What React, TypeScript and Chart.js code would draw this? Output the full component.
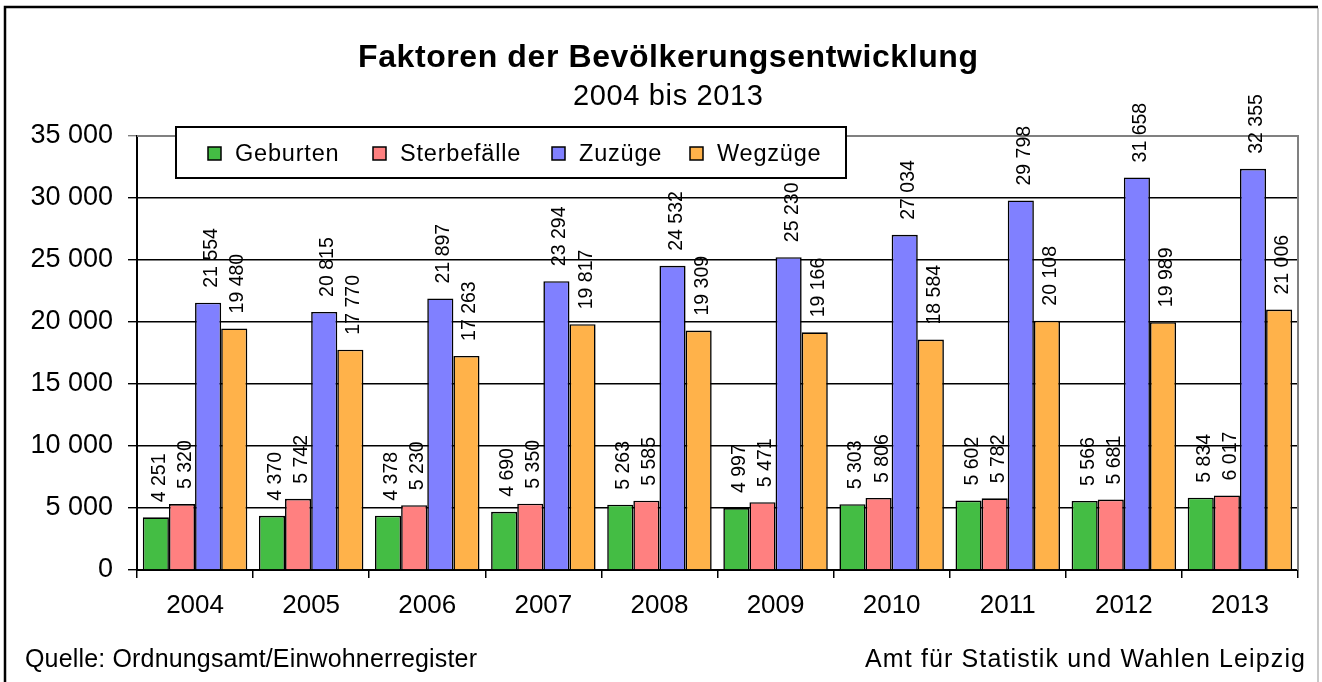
import { useEffect, useRef } from "react";
import { Chart, registerables } from "chart.js";

Chart.register(...registerables);

const years = ["2004", "2005", "2006", "2007", "2008", "2009", "2010", "2011", "2012", "2013"];
const geburten = [4251, 4370, 4378, 4690, 5263, 4997, 5303, 5602, 5566, 5834];
const sterbefaelle = [5320, 5742, 5230, 5350, 5585, 5471, 5806, 5782, 5681, 6017];
const zuzuege = [21554, 20815, 21897, 23294, 24532, 25230, 27034, 29798, 31658, 32355];
const wegzuege = [19480, 17770, 17263, 19817, 19309, 19166, 18584, 20108, 19989, 21006];
const seriesNames = ["Geburten", "Sterbefälle", "Zuzüge", "Wegzüge"];
const seriesColors = ["#44BD44", "#FF8080", "#8080FF", "#FFB24A"];
const yMin = 0;
const yMax = 35000;
const yStep = 5000;
const titleText = "Faktoren der Bevölkerungsentwicklung";
const subtitleText = "2004 bis 2013";
const sourceText = "Quelle: Ordnungsamt/Einwohnerregister";
const authorText = "Amt für Statistik und Wahlen Leipzig";

const FONT = '"Liberation Sans", Arial, sans-serif';

const fmt = (v: number) => String(v).replace(/\B(?=(\d{3})+(?!\d))/g, " ");

function fitText(ctx: any, text: string, x: number, y: number, width: number, align: "left" | "center" | "right") {
  ctx.letterSpacing = "0px";
  const w = ctx.measureText(text).width;
  const sp = text.length > 1 ? (width - w) / (text.length - 1) : 0;
  const start = align === "center" ? x - width / 2 : align === "right" ? x - width : x;
  ctx.letterSpacing = sp + "px";
  ctx.textAlign = "left";
  ctx.fillText(text, start, y);
  ctx.letterSpacing = "0px";
}

const decorPlugin = {
  id: "decor",
  beforeDatasetsDraw(chart: any) {
    const { ctx, chartArea } = chart;
    ctx.save();
    ctx.strokeStyle = "#808080";
    ctx.lineWidth = 2;
    ctx.beginPath();
    ctx.moveTo(chartArea.left, chartArea.top);
    ctx.lineTo(chartArea.right, chartArea.top);
    ctx.lineTo(chartArea.right, chartArea.bottom);
    ctx.stroke();
    ctx.restore();
  },
  afterDatasetsDraw(chart: any) {
    const { ctx } = chart;
    ctx.save();
    ctx.fillStyle = "#000";
    ctx.font = `19.5px ${FONT}`;
    ctx.textBaseline = "alphabetic";
    ctx.textAlign = "left";
    chart.data.datasets.forEach((ds: any, i: number) => {
      const meta = chart.getDatasetMeta(i);
      meta.data.forEach((bar: any, j: number) => {
        const v = ds.data[j];
        ctx.save();
        ctx.translate(bar.x + 9, bar.y - 15);
        ctx.rotate(-Math.PI / 2);
        ctx.fillText(fmt(v), 0, 0);
        ctx.restore();
      });
    });
    ctx.restore();
  },
  afterDraw(chart: any) {
    const { ctx } = chart;
    ctx.save();
    // outer frame
    ctx.strokeStyle = "#C8C8C8";
    ctx.lineWidth = 2;
    ctx.beginPath();
    ctx.moveTo(1318, 8);
    ctx.lineTo(1318, 682);
    ctx.stroke();
    ctx.strokeStyle = "#000";
    ctx.lineWidth = 2.5;
    ctx.beginPath();
    ctx.moveTo(5, 682);
    ctx.lineTo(5, 7);
    ctx.lineTo(1318, 7);
    ctx.stroke();

    // titles
    ctx.fillStyle = "#000";
    ctx.textBaseline = "alphabetic";
    ctx.font = `bold 32px ${FONT}`;
    fitText(ctx, titleText, 668, 67, 620, "center");
    ctx.font = `29px ${FONT}`;
    fitText(ctx, subtitleText, 668, 105, 190, "center");

    // footer
    ctx.font = `25px ${FONT}`;
    fitText(ctx, sourceText, 25, 667, 452, "left");
    fitText(ctx, authorText, 1305, 667, 440, "right");

    // legend box
    ctx.fillStyle = "#fff";
    ctx.fillRect(176, 127, 670, 51);
    ctx.strokeStyle = "#000";
    ctx.lineWidth = 2;
    ctx.strokeRect(176, 127, 670, 51);
    ctx.font = `23.5px ${FONT}`;
    ctx.letterSpacing = "0.8px";
    ctx.textBaseline = "middle";
    ctx.textAlign = "left";
    const markerX = [208, 373, 552, 690];
    const cy = 154;
    chart.data.datasets.forEach((ds: any, i: number) => {
      const x = markerX[i];
      ctx.fillStyle = ds.backgroundColor;
      ctx.fillRect(x, cy - 7, 13, 13);
      ctx.strokeStyle = "#000";
      ctx.lineWidth = 1.5;
      ctx.strokeRect(x, cy - 7, 13, 13);
      ctx.fillStyle = "#000";
      ctx.fillText(ds.label, x + 27, cy + 1);
    });
    ctx.letterSpacing = "0px";
    ctx.restore();
  },
};

export default function App() {
  const ref = useRef<HTMLCanvasElement | null>(null);
  useEffect(() => {
    if (!ref.current) return;
    const allData = [geburten, sterbefaelle, zuzuege, wegzuege];
    const chart = new Chart(ref.current, {
      type: "bar",
      data: {
        labels: years,
        datasets: allData.map((d, i) => ({
          label: seriesNames[i],
          data: d,
          backgroundColor: seriesColors[i],
          borderColor: "#000",
          borderWidth: 1.6,
          categoryPercentage: 0.9,
          barPercentage: 1.0,
        })),
      },
      options: {
        animation: false,
        responsive: false,
        devicePixelRatio: 1,
        layout: { padding: { left: 0, right: 24, top: 136, bottom: 52 } },
        plugins: {
          legend: { display: false },
          title: { display: false },
          tooltip: { enabled: false },
        },
        scales: {
          x: {
            afterFit: (s: any) => {
              s.height = 60;
            },
            grid: {
              offset: true,
              drawOnChartArea: false,
              drawTicks: true,
              tickLength: 8,
              color: "#000",
              lineWidth: 1.5,
            },
            border: { color: "#000", width: 2 },
            ticks: {
              color: "#000",
              font: { family: FONT, size: 26 },
              padding: 12,
              maxRotation: 0,
            },
          },
          y: {
            min: yMin,
            max: yMax,
            afterFit: (s: any) => {
              s.width = 137;
            },
            grid: {
              color: (c: any) => (c.tick && c.tick.value === yMax ? "#808080" : "#000"),
              lineWidth: 1.4,
              drawTicks: true,
              tickLength: 9,
            },
            border: { color: "#000", width: 2 },
            ticks: {
              stepSize: yStep,
              color: "#000",
              font: { family: FONT, size: 27 },
              padding: 15,
              callback: (v: any) => fmt(Number(v)),
            },
          },
        },
      },
      plugins: [decorPlugin],
    });
    return () => chart.destroy();
  }, []);
  return (
    <div style={{ position: "fixed", left: 0, top: 0, width: 1322, height: 682, background: "#fff" }}>
      <canvas ref={ref} width={1322} height={682} style={{ display: "block", width: 1322, height: 682 }} />
    </div>
  );
}
